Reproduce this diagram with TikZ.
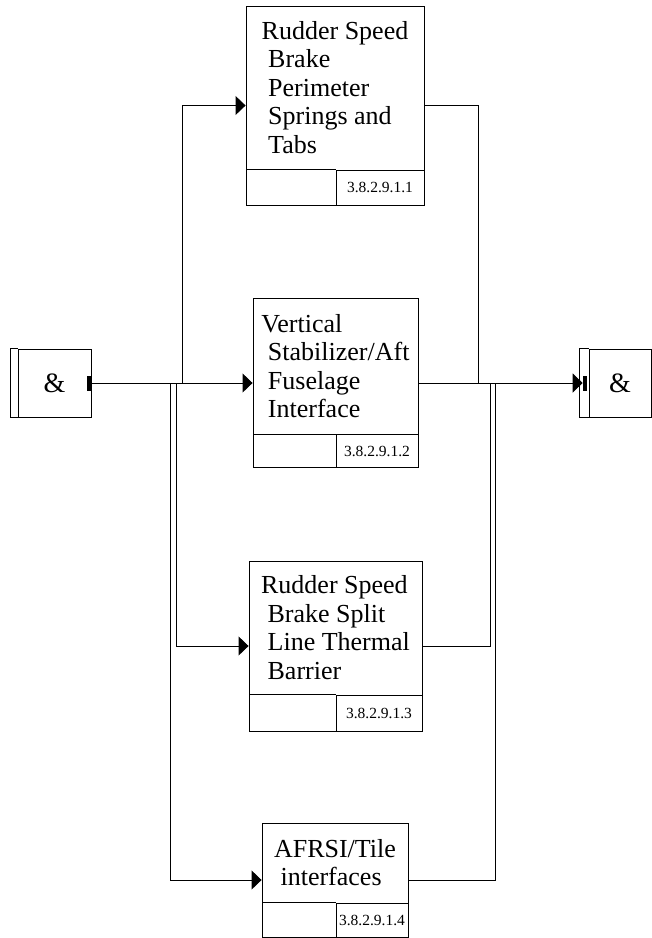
\documentclass[tikz,border=0pt]{standalone}
\usepackage{fontspec}
\setmainfont{Liberation Serif}
\usetikzlibrary{arrows.meta,positioning,calc}
\newcommand{\indsp}{\hspace*{.25em}}

\begin{document}
\begin{tikzpicture}[
    x=1pt, y=-1pt,
    line width=0.9pt,
    frame/.style={draw, inner sep=0pt},
    idcell/.style={draw, inner sep=0pt, font=\fontsize{15.5}{17}\selectfont},
    blocktext/.style={align=left, inner sep=0pt, font=\fontsize{26}{28.5}\selectfont},
    andbox/.style={draw, inner sep=0pt, minimum height=68pt, font=\fontsize{28}{30}\selectfont},
    portbar/.style={fill=black, inner sep=0pt, minimum width=4pt, minimum height=15pt},
    arrow/.style={-{Triangle[length=10pt,width=19pt]}}
]
\useasboundingbox (0,0) rectangle (652,938);

% function blocks
\node[frame, minimum width=178pt, minimum height=199pt] (b1) at (335,105.5) {};
\node[idcell, minimum width=88pt, minimum height=35pt, anchor=south east] (b1id) at (b1.south east) {3.8.2.9.1.1};
\draw (b1id.north west) -- (b1.west |- b1id.north);
\node[blocktext] (b1txt) at ($(b1.north)!.5!(b1.north |- b1id.north)$) {Rudder Speed\\\indsp Brake\\\indsp Perimeter\\\indsp Springs and\\\indsp Tabs};

\node[frame, minimum width=165pt, minimum height=169pt] (b2) at (335.5,383) {};
\node[idcell, minimum width=82pt, minimum height=33pt, anchor=south east] (b2id) at (b2.south east) {3.8.2.9.1.2};
\draw (b2id.north west) -- (b2.west |- b2id.north);
\node[blocktext] (b2txt) at ($(b2.north)!.5!(b2.north |- b2id.north)$) {Vertical\\\indsp Stabilizer/Aft\\\indsp Fuselage\\\indsp Interface};

\node[frame, minimum width=173pt, minimum height=170pt] (b3) at (335.5,646) {};
\node[idcell, minimum width=86pt, minimum height=36pt, anchor=south east] (b3id) at (b3.south east) {3.8.2.9.1.3};
\draw (b3id.north west) -- (b3.west |- b3id.north);
\node[blocktext] (b3txt) at ($(b3.north)!.5!(b3.north |- b3id.north)$) {Rudder Speed\\\indsp Brake Split\\\indsp Line Thermal\\\indsp Barrier};

\node[frame, minimum width=146pt, minimum height=114pt] (b4) at (335,880) {};
\node[idcell, minimum width=72pt, minimum height=34pt, anchor=south east] (b4id) at (b4.south east) {3.8.2.9.1.4};
\draw (b4id.north west) -- (b4.west |- b4id.north);
\node[blocktext] (b4txt) at ($(b4.north)!.5!(b4.north |- b4id.north)$) {AFRSI/Tile\\\indsp interfaces};

% and junctions
\node[andbox, minimum width=73pt] (andL) at (54.5,383) {\&};
\draw (andL.north west) -- ++(-7,0) |- (andL.south west);
\node[portbar, anchor=east] (andLport) at (andL.east) {};

\node[andbox, minimum width=62pt] (andR) at (620,383) {\&};
\draw (andR.north west) -- ++(-9,0) |- (andR.south west);
\node[portbar, anchor=east] (andRport) at ([xshift=-1pt]andR.west) {};

% branch points
\coordinate (sp1) at (182,383);
\coordinate (sp2) at (176,383);
\coordinate (sp3) at (170,383);
\coordinate (mg1) at (478,383);
\coordinate (mg2) at (490,383);
\coordinate (mg3) at (495,383);

\draw[arrow] (andL.east) -- (b2.west);
\draw[arrow] (sp1) |- (b1.west);
\draw[arrow] (sp2) |- (b3.west);
\draw[arrow] (sp3) |- (b4.west);
\draw[arrow] (b2.east) -- (andRport.west);
\draw (b1.east) -| (mg1);
\draw (b3.east) -| (mg2);
\draw (b4.east) -| (mg3);
\end{tikzpicture}
\end{document}
